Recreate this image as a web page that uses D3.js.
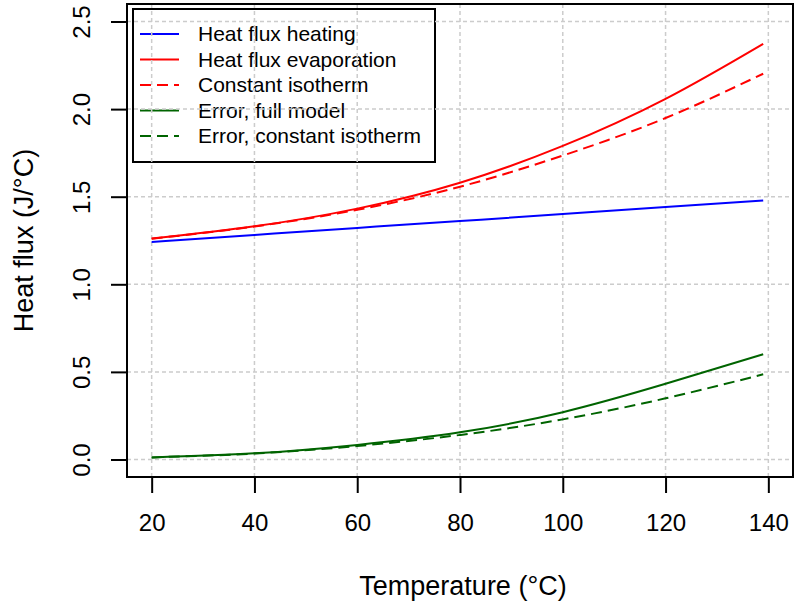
<!DOCTYPE html>
<html>
<head>
<meta charset="utf-8">
<script src="https://cdn.jsdelivr.net/npm/d3@7"></script>
<style>
  body { margin: 0; background: #fff; }
  text { font-family: "Liberation Sans", Arial, Helvetica, sans-serif; fill: #000; }
</style>
</head>
<body>
<div id="chart"></div>
<script>
// Data
const temps = [20, 40, 60, 80, 100, 120, 139];
const heating = [1.242, 1.282, 1.322, 1.361, 1.401, 1.441, 1.479];
const evaporation = [1.261, 1.331, 1.432, 1.580, 1.790, 2.059, 2.373];
const isotherm = [1.260, 1.330, 1.425, 1.557, 1.735, 1.949, 2.202];
const errorFull = [0.012, 0.035, 0.083, 0.155, 0.270, 0.432, 0.601];
const errorIso = [0.012, 0.034, 0.077, 0.140, 0.229, 0.349, 0.486];

const xTicks = [20, 40, 60, 80, 100, 120, 140];
const yTicks = [0, 0.5, 1, 1.5, 2, 2.5];
const seriesNames = ['Heat flux heating', 'Heat flux evaporation', 'Constant isotherm',
  'Error, full model', 'Error, constant isotherm'];

// Dimensions
const WIDTH = 794;
const HEIGHT = 604;
const BOX = { left: 127, right: 793, top: 4, bottom: 477 };

const series = [
  { name: seriesNames[0], values: heating, color: '#0000ff', dash: null },
  { name: seriesNames[1], values: evaporation, color: '#ff0000', dash: null },
  { name: seriesNames[2], values: isotherm, color: '#ff0000', dash: '11,6' },
  { name: seriesNames[3], values: errorFull, color: '#006400', dash: null },
  { name: seriesNames[4], values: errorIso, color: '#006400', dash: '11,6' }
];

const svg = d3.select('#chart')
  .append('svg')
  .attr('width', WIDTH)
  .attr('height', HEIGHT);

// R style: limits padded 4% around xlim c(20,140), ylim c(0,2.5)
const x = d3.scaleLinear().domain([15.2, 144.8]).range([BOX.left, BOX.right]);
const y = d3.scaleLinear().domain([-0.1, 2.6]).range([BOX.bottom, BOX.top]);

// Legend box (grid is drawn over it, as in the reference)
const legend = svg.append('g');
legend.append('rect')
  .attr('x', 133).attr('y', 9)
  .attr('width', 302).attr('height', 153)
  .attr('fill', 'none')
  .attr('stroke', '#000')
  .attr('stroke-width', 2);

// Grid
const grid = svg.append('g')
  .attr('stroke', '#cccccc')
  .attr('stroke-width', 1.5)
  .attr('stroke-dasharray', '4,3');

grid.selectAll('.vgrid')
  .data(xTicks)
  .enter()
  .append('line')
  .attr('x1', d => x(d)).attr('x2', d => x(d))
  .attr('y1', BOX.top).attr('y2', BOX.bottom);

grid.selectAll('.hgrid')
  .data(yTicks)
  .enter()
  .append('line')
  .attr('x1', BOX.left).attr('x2', BOX.right)
  .attr('y1', d => y(d)).attr('y2', d => y(d));

// Lines
const line = d3.line()
  .x((d, i) => x(temps[i]))
  .y(d => y(d))
  .curve(d3.curveNatural);

svg.append('g')
  .selectAll('path')
  .data(series)
  .enter()
  .append('path')
  .attr('d', d => line(d.values))
  .attr('fill', 'none')
  .attr('stroke', d => d.color)
  .attr('stroke-width', 2)
  .attr('stroke-dasharray', d => d.dash);

// Legend entries
const rowY = i => 34 + i * 25.5;
legend.selectAll('line')
  .data(series)
  .enter()
  .append('line')
  .attr('x1', 140).attr('x2', 179)
  .attr('y1', (d, i) => rowY(i)).attr('y2', (d, i) => rowY(i))
  .attr('stroke', d => d.color)
  .attr('stroke-width', 2)
  .attr('stroke-dasharray', d => d.dash);

legend.selectAll('text')
  .data(series)
  .enter()
  .append('text')
  .attr('x', 198)
  .attr('y', (d, i) => rowY(i))
  .attr('dy', '0.35em')
  .style('font-size', '21px')
  .text(d => d.name);

// Plot frame
svg.append('rect')
  .attr('x', BOX.left).attr('y', BOX.top)
  .attr('width', BOX.right - BOX.left)
  .attr('height', BOX.bottom - BOX.top)
  .attr('fill', 'none')
  .attr('stroke', '#000')
  .attr('stroke-width', 2);

// Axes
const xAxis = svg.append('g')
  .attr('transform', `translate(0,${BOX.bottom})`)
  .call(d3.axisBottom(x).tickValues(xTicks).tickSize(16).tickPadding(21).tickFormat(d3.format('d')));

const yAxis = svg.append('g')
  .attr('transform', `translate(${BOX.left},0)`)
  .call(d3.axisLeft(y).tickValues(yTicks).tickSize(16).tickFormat(d3.format('.1f')));

[xAxis, yAxis].forEach(a => {
  a.select('.domain').remove();
  a.selectAll('.tick line').attr('stroke', '#000').attr('stroke-width', 2);
  a.selectAll('.tick text')
    .style('font-size', '24px')
    .style('font-family', '"Liberation Sans", Arial, sans-serif')
    .attr('fill', '#000');
});

// Rotated y tick labels like R's las = 0
yAxis.selectAll('.tick text')
  .attr('x', null).attr('dy', null)
  .attr('transform', 'translate(-46,0) rotate(-90)')
  .attr('text-anchor', 'middle')
  .attr('dominant-baseline', 'central');

// Axis titles
svg.append('text')
  .attr('x', 463)
  .attr('y', 595)
  .attr('text-anchor', 'middle')
  .style('font-size', '27px')
  .text('Temperature (°C)');

svg.append('text')
  .attr('transform', `translate(24,${(BOX.top + BOX.bottom) / 2}) rotate(-90)`)
  .attr('text-anchor', 'middle')
  .attr('dominant-baseline', 'central')
  .style('font-size', '27px')
  .text('Heat flux (J/°C)');
</script>
</body>
</html>
